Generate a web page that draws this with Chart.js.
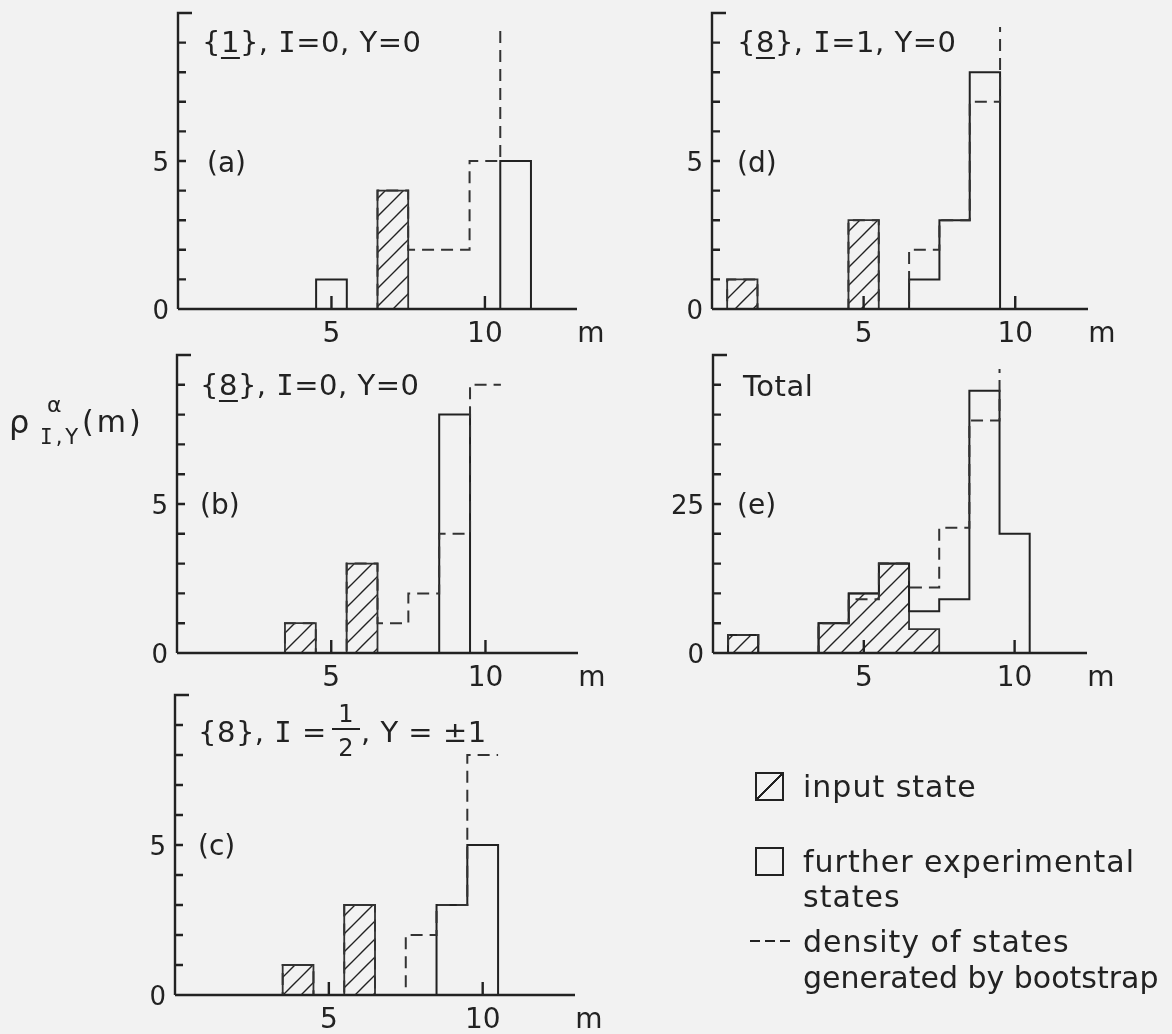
<!DOCTYPE html>
<html>
<head>
<meta charset="utf-8">
<script src="https://cdn.jsdelivr.net/npm/chart.js@4.4.1/dist/chart.umd.min.js"></script>
<style>
  body { margin: 0; background: #f2f2f2; }
  #page { position: relative; width: 1172px; height: 1034px; overflow: hidden;
          font-family: "DejaVu Sans", sans-serif; color: #222; }
  #page canvas { position: absolute; left: 0; top: 0; }
  .t { position: absolute; white-space: nowrap; line-height: 1; }
  .title { font-size: 29px; letter-spacing: 0.5px; }
  .tag { font-size: 28px; }
  .leg { font-size: 30px; letter-spacing: 1px; }
  .ii { font-family: "DejaVu Sans Mono", monospace; }
  u { text-decoration-thickness: 2px; text-underline-offset: 5px; }
  .box { position: absolute; width: 25px; height: 25px; border: 2px solid #222; }
  .frac { position: absolute; width: 28px; font-size: 24px; text-align: center; line-height: 1; }
  .frac .num { border-bottom: 2px solid #222; padding-bottom: 2px; }
  .frac .den { padding-top: 6px; }
</style>
</head>
<body>
<div id="page">
  <canvas id="chartA" width="1172" height="1034"></canvas>
  <canvas id="chartB" width="1172" height="1034"></canvas>
  <canvas id="chartC" width="1172" height="1034"></canvas>
  <canvas id="chartD" width="1172" height="1034"></canvas>
  <canvas id="chartE" width="1172" height="1034"></canvas>

  <!-- panel titles -->
  <div class="t title" style="left:202px; top:28px;">{<u>1</u>}, <span class="ii">I</span>=0, Y=0</div>
  <div class="t title" style="left:737px; top:28px;">{<u>8</u>}, <span class="ii">I</span>=1, Y=0</div>
  <div class="t title" style="left:200px; top:371px;">{<u>8</u>}, <span class="ii">I</span>=0, Y=0</div>
  <div class="t title" style="left:743px; top:372px;">Total</div>
  <div class="t title" style="left:198px; top:718px;">{8}, <span class="ii">I</span> =</div>
  <div class="frac" style="left:332px; top:702px;"><div class="num">1</div><div class="den">2</div></div>
  <div class="t title" style="left:361px; top:718px;">, Y = ±1</div>

  <!-- panel tags -->
  <div class="t tag" style="left:207px; top:149px;">(a)</div>
  <div class="t tag" style="left:737px; top:149px;">(d)</div>
  <div class="t tag" style="left:200px; top:491px;">(b)</div>
  <div class="t tag" style="left:737px; top:491px;">(e)</div>
  <div class="t tag" style="left:198px; top:832px;">(c)</div>

  <!-- y axis label -->
  <div class="t" style="left:9px; top:406px; font-size:32px;">ρ</div>
  <div class="t" style="left:47px; top:394px; font-size:22px;">α</div>
  <div class="t" style="left:40px; top:427px; font-size:21px; letter-spacing:3px;"><span class="ii">I</span>,Y</div>
  <div class="t" style="left:82px; top:407px; font-size:30px; letter-spacing:3px;">(m)</div>

  <!-- legend -->
  <div class="box" style="left:755px; top:772px; background: linear-gradient(to bottom right, transparent calc(50% - 1px), #222 calc(50% - 1px), #222 calc(50% + 1px), transparent calc(50% + 1px));"></div>
  <div class="t leg" style="left:803px; top:772px;">input state</div>
  <div class="box" style="left:755px; top:847px;"></div>
  <div class="t leg" style="left:803px; top:847px;">further experimental</div>
  <div class="t leg" style="left:803px; top:882px;">states</div>
  <div style="position:absolute; left:750px; top:940px; width:40px; height:2px;
              background: repeating-linear-gradient(to right, #222 0 10px, transparent 10px 15px);"></div>
  <div class="t leg" style="left:803px; top:927px;">density of states</div>
  <div class="t leg" style="left:803px; top:963px; letter-spacing:0;">generated by bootstrap</div>
</div>

<script>
// mass bins (m) and tick labels
const mValues = [0, 1, 2, 3, 4, 5, 6, 7, 8, 9, 10, 11];
const xTickLabels = [5, 10];
const yTickLabels = [0, 5];
const yTickLabelsTotal = [0, 25];
const OFF = 1000; // bootstrap density runs off the top of the frame

// (a) {1}, I=0, Y=0
const aInput = [0, 0, 0, 0, 0, 0, 0, 4];
const aExper = [0, 0, 0, 0, 0, 1, 0, 0, 0, 0, 0, 5];
const aBoot  = [0, 0, 0, 0, 0, 0, 0, 4, 2, 2, 5, OFF];

// (b) {8}, I=0, Y=0
const bInput = [0, 0, 0, 0, 1, 0, 3];
const bExper = [0, 0, 0, 0, 0, 0, 0, 0, 0, 8];
const bBoot  = [0, 0, 0, 0, 1, 0, 3, 1, 2, 4, 9];

// (c) {8}, I=1/2, Y=±1
const cInput = [0, 0, 0, 0, 1, 0, 3];
const cExper = [0, 0, 0, 0, 0, 0, 0, 0, 0, 3, 5];
const cBoot  = [0, 0, 0, 0, 1, 0, 3, 0, 2, 3, 8];

// (d) {8}, I=1, Y=0
const dInput = [0, 1, 0, 0, 0, 3];
const dExper = [0, 0, 0, 0, 0, 0, 0, 1, 3, 8];
const dBoot  = [0, 1, 0, 0, 0, 3, 0, 2, 3, 7, OFF];

// (e) Total
const eInput = [0, 3, 0, 0, 5, 10, 15, 4];
const eExper = [0, 3, 0, 0, 5, 10, 15, 7, 9, 44, 20];
const eBoot  = [0, 3, 0, 0, 5, 9, 15, 11, 21, 39, OFF];

const INK = "#222";
const PAGE_W = 1172, PAGE_H = 1034;

// bin edges: each value holds from m-0.5 to m+0.5
function histPoints(vals, dropToZero) {
    const pts = vals.map((v, i) => ({ x: mValues[i] - 0.5, y: v }));
    const last = vals.length - 1;
    pts.push({ x: mValues[last] + 0.5, y: dropToZero ? 0 : vals[last] });
    return pts;
}

function hatchTile() {
    const s = 18;
    const c = document.createElement("canvas");
    c.width = s; c.height = s;
    const g = c.getContext("2d");
    g.strokeStyle = INK;
    g.lineWidth = 1.4;
    g.beginPath();
    g.moveTo(0, s); g.lineTo(s, 0);
    g.moveTo(-s / 2, s / 2); g.lineTo(s / 2, -s / 2);
    g.moveTo(s / 2, s * 1.5); g.lineTo(s * 1.5, s / 2);
    g.stroke();
    return c;
}
const tile = hatchTile();

// axes, ticks and tick labels
const frame = {
    id: "frame",
    afterDatasetsDraw(chart, args, opts) {
        const { ctx, chartArea: a } = chart;
        const x = chart.scales.x, y = chart.scales.y;
        ctx.save();
        ctx.strokeStyle = INK;
        ctx.lineWidth = 2.4;
        ctx.beginPath();
        ctx.moveTo(a.left, a.bottom); ctx.lineTo(a.right, a.bottom);
        ctx.moveTo(a.left + 14, a.top); ctx.lineTo(a.left, a.top); ctx.lineTo(a.left, a.bottom);
        for (let v = opts.yStep; v < opts.yMax; v += opts.yStep) {
            const py = y.getPixelForValue(v);
            ctx.moveTo(a.left, py); ctx.lineTo(a.left + 8, py);
        }
        xTickLabels.forEach(v => {
            const px = x.getPixelForValue(v);
            ctx.moveTo(px, a.bottom); ctx.lineTo(px, a.bottom - 13);
        });
        ctx.stroke();

        ctx.fillStyle = INK;
        ctx.textBaseline = "alphabetic";
        ctx.font = '26px "DejaVu Sans"';
        ctx.textAlign = "right";
        opts.yLabels.forEach(v => ctx.fillText(String(v), a.left - 9, y.getPixelForValue(v) + 10));
        ctx.font = '28px "DejaVu Sans"';
        ctx.textAlign = "center";
        xTickLabels.forEach(v => ctx.fillText(String(v), x.getPixelForValue(v), a.bottom + 33));
        ctx.fillText("m", a.right + 14, a.bottom + 33);
        ctx.restore();
    }
};

function makePanel(id, area, xMax, yMax, yStep, yLabels, input, exper, boot) {
    const canvas = document.getElementById(id);
    const pattern = canvas.getContext("2d").createPattern(tile, "repeat");
    new Chart(canvas, {
        type: "line",
        data: {
            datasets: [
                {
                    label: "input state",
                    data: histPoints(input, true),
                    stepped: "before",
                    borderColor: "#333",
                    borderWidth: 1.8,
                    backgroundColor: pattern,
                    fill: "origin",
                    order: 3,
                    clip: { left: 0, top: 2, right: 2, bottom: 2 },
                },
                {
                    label: "further experimental states",
                    data: histPoints(exper, true),
                    stepped: "before",
                    borderColor: INK,
                    borderWidth: 2,
                    fill: false,
                    order: 2,
                    clip: { left: 0, top: 2, right: 2, bottom: 2 },
                },
                {
                    label: "density of states generated by bootstrap",
                    data: histPoints(boot, false),
                    stepped: "before",
                    borderColor: "#333",
                    borderWidth: 2,
                    borderDash: [12, 7],
                    fill: false,
                    order: 1,
                    clip: { left: 0, top: -14, right: 2, bottom: 2 },
                },
            ],
        },
        options: {
            responsive: false,
            animation: false,
            events: [],
            elements: { point: { radius: 0 }, line: { tension: 0, borderCapStyle: "butt" } },
            layout: {
                padding: {
                    left: area.left, top: area.top,
                    right: PAGE_W - area.right, bottom: PAGE_H - area.bottom,
                },
            },
            scales: {
                x: { type: "linear", min: 0, max: xMax, display: false },
                y: { type: "linear", min: 0, max: yMax, display: false },
            },
            plugins: {
                legend: { display: false },
                tooltip: { enabled: false },
                frame: { yMax: yMax, yStep: yStep, yLabels: yLabels },
            },
        },
        plugins: [frame],
    });
}

makePanel("chartA", { left: 178, top: 13, right: 577, bottom: 309 }, 13, 10, 1, yTickLabels, aInput, aExper, aBoot);
makePanel("chartB", { left: 177, top: 355, right: 578, bottom: 653 }, 13, 10, 1, yTickLabels, bInput, bExper, bBoot);
makePanel("chartC", { left: 175, top: 695, right: 575, bottom: 995 }, 13, 10, 1, yTickLabels, cInput, cExper, cBoot);
makePanel("chartD", { left: 712, top: 13, right: 1088, bottom: 309 }, 12.4, 10, 1, yTickLabels, dInput, dExper, dBoot);
makePanel("chartE", { left: 713, top: 355, right: 1087, bottom: 653 }, 12.4, 50, 5, yTickLabelsTotal, eInput, eExper, eBoot);
</script>
</body>
</html>
